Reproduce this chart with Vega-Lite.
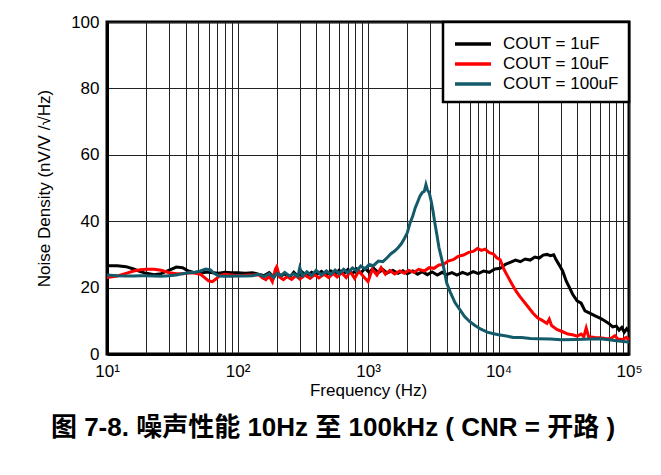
{
  "$schema": "https://vega.github.io/schema/vega-lite/v6.json",
  "autosize": {"type": "none"},
  "width": 522,
  "height": 332,
  "padding": {"left": 107, "top": 22, "right": 32, "bottom": 121},
  "background": "white",
  "title": {
    "text": "图 7-8. 噪声性能 10Hz 至 100kHz ( CNR = 开路 )",
    "orient": "bottom",
    "anchor": "middle",
    "frame": "group",
    "offset": 17,
    "dx": -35,
    "font": "Liberation Sans, Noto Sans CJK SC",
    "fontSize": 26,
    "fontWeight": "bold",
    "color": "black"
  },
  "config": {
    "view": {"stroke": "black", "strokeWidth": 3},
    "axis": {
      "labelFont": "Liberation Sans",
      "titleFont": "Liberation Sans",
      "labelColor": "black",
      "titleColor": "black",
      "titleFontWeight": "normal",
      "domainColor": "black",
      "domainWidth": 3,
      "gridColor": "#222222",
      "gridWidth": 1,
      "gridOpacity": 1,
      "ticks": false
    }
  },
  "data": {
    "values": [
      {"f": 10, "v": 26.6, "s": "COUT = 1uF"},
      {"f": 12, "v": 26.6, "s": "COUT = 1uF"},
      {"f": 14, "v": 26.3, "s": "COUT = 1uF"},
      {"f": 16, "v": 25.6, "s": "COUT = 1uF"},
      {"f": 18, "v": 24.8, "s": "COUT = 1uF"},
      {"f": 20, "v": 24.3, "s": "COUT = 1uF"},
      {"f": 23, "v": 23.9, "s": "COUT = 1uF"},
      {"f": 26, "v": 24.2, "s": "COUT = 1uF"},
      {"f": 30, "v": 25.3, "s": "COUT = 1uF"},
      {"f": 34, "v": 26.2, "s": "COUT = 1uF"},
      {"f": 38, "v": 26.0, "s": "COUT = 1uF"},
      {"f": 42, "v": 25.0, "s": "COUT = 1uF"},
      {"f": 47, "v": 24.5, "s": "COUT = 1uF"},
      {"f": 52, "v": 24.3, "s": "COUT = 1uF"},
      {"f": 58, "v": 24.7, "s": "COUT = 1uF"},
      {"f": 65, "v": 24.5, "s": "COUT = 1uF"},
      {"f": 72, "v": 24.3, "s": "COUT = 1uF"},
      {"f": 80, "v": 24.6, "s": "COUT = 1uF"},
      {"f": 90, "v": 24.5, "s": "COUT = 1uF"},
      {"f": 100, "v": 24.5, "s": "COUT = 1uF"},
      {"f": 115, "v": 24.3, "s": "COUT = 1uF"},
      {"f": 130, "v": 24.5, "s": "COUT = 1uF"},
      {"f": 145, "v": 24.0, "s": "COUT = 1uF"},
      {"f": 160, "v": 23.6, "s": "COUT = 1uF"},
      {"f": 175, "v": 24.5, "s": "COUT = 1uF"},
      {"f": 190, "v": 23.2, "s": "COUT = 1uF"},
      {"f": 200, "v": 24.8, "s": "COUT = 1uF"},
      {"f": 215, "v": 23.5, "s": "COUT = 1uF"},
      {"f": 230, "v": 24.2, "s": "COUT = 1uF"},
      {"f": 250, "v": 23.0, "s": "COUT = 1uF"},
      {"f": 270, "v": 24.6, "s": "COUT = 1uF"},
      {"f": 290, "v": 23.4, "s": "COUT = 1uF"},
      {"f": 310, "v": 24.8, "s": "COUT = 1uF"},
      {"f": 340, "v": 23.5, "s": "COUT = 1uF"},
      {"f": 370, "v": 24.6, "s": "COUT = 1uF"},
      {"f": 400, "v": 23.8, "s": "COUT = 1uF"},
      {"f": 440, "v": 24.9, "s": "COUT = 1uF"},
      {"f": 480, "v": 23.7, "s": "COUT = 1uF"},
      {"f": 520, "v": 25.0, "s": "COUT = 1uF"},
      {"f": 560, "v": 24.0, "s": "COUT = 1uF"},
      {"f": 600, "v": 25.2, "s": "COUT = 1uF"},
      {"f": 650, "v": 24.1, "s": "COUT = 1uF"},
      {"f": 700, "v": 25.4, "s": "COUT = 1uF"},
      {"f": 760, "v": 24.2, "s": "COUT = 1uF"},
      {"f": 820, "v": 25.6, "s": "COUT = 1uF"},
      {"f": 880, "v": 24.4, "s": "COUT = 1uF"},
      {"f": 950, "v": 25.8, "s": "COUT = 1uF"},
      {"f": 1020, "v": 24.6, "s": "COUT = 1uF"},
      {"f": 1100, "v": 25.9, "s": "COUT = 1uF"},
      {"f": 1200, "v": 24.5, "s": "COUT = 1uF"},
      {"f": 1300, "v": 25.4, "s": "COUT = 1uF"},
      {"f": 1400, "v": 24.4, "s": "COUT = 1uF"},
      {"f": 1550, "v": 25.2, "s": "COUT = 1uF"},
      {"f": 1700, "v": 24.3, "s": "COUT = 1uF"},
      {"f": 1850, "v": 25.1, "s": "COUT = 1uF"},
      {"f": 2000, "v": 24.2, "s": "COUT = 1uF"},
      {"f": 2200, "v": 25.0, "s": "COUT = 1uF"},
      {"f": 2400, "v": 24.0, "s": "COUT = 1uF"},
      {"f": 2600, "v": 24.8, "s": "COUT = 1uF"},
      {"f": 2850, "v": 23.9, "s": "COUT = 1uF"},
      {"f": 3100, "v": 24.7, "s": "COUT = 1uF"},
      {"f": 3400, "v": 23.8, "s": "COUT = 1uF"},
      {"f": 3700, "v": 24.6, "s": "COUT = 1uF"},
      {"f": 4000, "v": 23.9, "s": "COUT = 1uF"},
      {"f": 4400, "v": 24.5, "s": "COUT = 1uF"},
      {"f": 4800, "v": 23.8, "s": "COUT = 1uF"},
      {"f": 5300, "v": 24.6, "s": "COUT = 1uF"},
      {"f": 5800, "v": 24.0, "s": "COUT = 1uF"},
      {"f": 6400, "v": 24.8, "s": "COUT = 1uF"},
      {"f": 7000, "v": 24.2, "s": "COUT = 1uF"},
      {"f": 7700, "v": 25.0, "s": "COUT = 1uF"},
      {"f": 8500, "v": 24.6, "s": "COUT = 1uF"},
      {"f": 9400, "v": 25.6, "s": "COUT = 1uF"},
      {"f": 10300, "v": 25.8, "s": "COUT = 1uF"},
      {"f": 11300, "v": 27.0, "s": "COUT = 1uF"},
      {"f": 12300, "v": 27.6, "s": "COUT = 1uF"},
      {"f": 13500, "v": 28.3, "s": "COUT = 1uF"},
      {"f": 14700, "v": 27.8, "s": "COUT = 1uF"},
      {"f": 16000, "v": 28.6, "s": "COUT = 1uF"},
      {"f": 17500, "v": 28.3, "s": "COUT = 1uF"},
      {"f": 19000, "v": 29.2, "s": "COUT = 1uF"},
      {"f": 20500, "v": 28.9, "s": "COUT = 1uF"},
      {"f": 22000, "v": 29.8, "s": "COUT = 1uF"},
      {"f": 23500, "v": 30.0, "s": "COUT = 1uF"},
      {"f": 25000, "v": 29.6, "s": "COUT = 1uF"},
      {"f": 26500, "v": 29.9, "s": "COUT = 1uF"},
      {"f": 27500, "v": 28.5, "s": "COUT = 1uF"},
      {"f": 29000, "v": 27.0, "s": "COUT = 1uF"},
      {"f": 31000, "v": 25.0, "s": "COUT = 1uF"},
      {"f": 33000, "v": 22.0, "s": "COUT = 1uF"},
      {"f": 35000, "v": 20.0, "s": "COUT = 1uF"},
      {"f": 37000, "v": 18.0, "s": "COUT = 1uF"},
      {"f": 40000, "v": 16.0, "s": "COUT = 1uF"},
      {"f": 43000, "v": 15.3, "s": "COUT = 1uF"},
      {"f": 46000, "v": 13.0, "s": "COUT = 1uF"},
      {"f": 50000, "v": 12.3, "s": "COUT = 1uF"},
      {"f": 55000, "v": 11.5, "s": "COUT = 1uF"},
      {"f": 60000, "v": 10.8, "s": "COUT = 1uF"},
      {"f": 65000, "v": 10.0, "s": "COUT = 1uF"},
      {"f": 70000, "v": 9.2, "s": "COUT = 1uF"},
      {"f": 75000, "v": 8.2, "s": "COUT = 1uF"},
      {"f": 80000, "v": 8.4, "s": "COUT = 1uF"},
      {"f": 84000, "v": 7.2, "s": "COUT = 1uF"},
      {"f": 88000, "v": 8.0, "s": "COUT = 1uF"},
      {"f": 92000, "v": 6.6, "s": "COUT = 1uF"},
      {"f": 96000, "v": 7.6, "s": "COUT = 1uF"},
      {"f": 100000, "v": 6.8, "s": "COUT = 1uF"},

      {"f": 10, "v": 23.0, "s": "COUT = 10uF"},
      {"f": 12, "v": 23.5, "s": "COUT = 10uF"},
      {"f": 14, "v": 24.3, "s": "COUT = 10uF"},
      {"f": 16, "v": 25.0, "s": "COUT = 10uF"},
      {"f": 18, "v": 25.4, "s": "COUT = 10uF"},
      {"f": 20, "v": 25.5, "s": "COUT = 10uF"},
      {"f": 23, "v": 25.5, "s": "COUT = 10uF"},
      {"f": 26, "v": 25.2, "s": "COUT = 10uF"},
      {"f": 30, "v": 24.5, "s": "COUT = 10uF"},
      {"f": 34, "v": 24.2, "s": "COUT = 10uF"},
      {"f": 38, "v": 24.2, "s": "COUT = 10uF"},
      {"f": 42, "v": 24.4, "s": "COUT = 10uF"},
      {"f": 47, "v": 24.4, "s": "COUT = 10uF"},
      {"f": 52, "v": 24.0, "s": "COUT = 10uF"},
      {"f": 56, "v": 23.0, "s": "COUT = 10uF"},
      {"f": 60, "v": 22.0, "s": "COUT = 10uF"},
      {"f": 64, "v": 21.8, "s": "COUT = 10uF"},
      {"f": 68, "v": 22.5, "s": "COUT = 10uF"},
      {"f": 73, "v": 23.6, "s": "COUT = 10uF"},
      {"f": 80, "v": 24.0, "s": "COUT = 10uF"},
      {"f": 90, "v": 23.8, "s": "COUT = 10uF"},
      {"f": 100, "v": 23.6, "s": "COUT = 10uF"},
      {"f": 115, "v": 23.7, "s": "COUT = 10uF"},
      {"f": 130, "v": 23.8, "s": "COUT = 10uF"},
      {"f": 145, "v": 23.9, "s": "COUT = 10uF"},
      {"f": 155, "v": 23.0, "s": "COUT = 10uF"},
      {"f": 165, "v": 22.4, "s": "COUT = 10uF"},
      {"f": 175, "v": 23.5, "s": "COUT = 10uF"},
      {"f": 185, "v": 21.8, "s": "COUT = 10uF"},
      {"f": 195, "v": 25.5, "s": "COUT = 10uF"},
      {"f": 200, "v": 26.3, "s": "COUT = 10uF"},
      {"f": 210, "v": 23.2, "s": "COUT = 10uF"},
      {"f": 225, "v": 22.4, "s": "COUT = 10uF"},
      {"f": 240, "v": 23.3, "s": "COUT = 10uF"},
      {"f": 260, "v": 22.5, "s": "COUT = 10uF"},
      {"f": 280, "v": 23.6, "s": "COUT = 10uF"},
      {"f": 300, "v": 22.6, "s": "COUT = 10uF"},
      {"f": 330, "v": 23.8, "s": "COUT = 10uF"},
      {"f": 360, "v": 22.8, "s": "COUT = 10uF"},
      {"f": 390, "v": 23.9, "s": "COUT = 10uF"},
      {"f": 420, "v": 22.9, "s": "COUT = 10uF"},
      {"f": 460, "v": 24.0, "s": "COUT = 10uF"},
      {"f": 500, "v": 23.0, "s": "COUT = 10uF"},
      {"f": 540, "v": 24.3, "s": "COUT = 10uF"},
      {"f": 580, "v": 23.2, "s": "COUT = 10uF"},
      {"f": 630, "v": 24.5, "s": "COUT = 10uF"},
      {"f": 680, "v": 23.0, "s": "COUT = 10uF"},
      {"f": 730, "v": 24.8, "s": "COUT = 10uF"},
      {"f": 790, "v": 22.8, "s": "COUT = 10uF"},
      {"f": 850, "v": 25.0, "s": "COUT = 10uF"},
      {"f": 920, "v": 23.4, "s": "COUT = 10uF"},
      {"f": 1000, "v": 21.8, "s": "COUT = 10uF"},
      {"f": 1080, "v": 25.5, "s": "COUT = 10uF"},
      {"f": 1170, "v": 23.8, "s": "COUT = 10uF"},
      {"f": 1260, "v": 26.0, "s": "COUT = 10uF"},
      {"f": 1360, "v": 24.0, "s": "COUT = 10uF"},
      {"f": 1470, "v": 25.2, "s": "COUT = 10uF"},
      {"f": 1600, "v": 24.1, "s": "COUT = 10uF"},
      {"f": 1750, "v": 25.0, "s": "COUT = 10uF"},
      {"f": 1900, "v": 24.3, "s": "COUT = 10uF"},
      {"f": 2050, "v": 25.2, "s": "COUT = 10uF"},
      {"f": 2250, "v": 24.6, "s": "COUT = 10uF"},
      {"f": 2450, "v": 25.5, "s": "COUT = 10uF"},
      {"f": 2700, "v": 25.0, "s": "COUT = 10uF"},
      {"f": 2950, "v": 26.0, "s": "COUT = 10uF"},
      {"f": 3200, "v": 25.8, "s": "COUT = 10uF"},
      {"f": 3500, "v": 26.8, "s": "COUT = 10uF"},
      {"f": 3800, "v": 27.0, "s": "COUT = 10uF"},
      {"f": 4100, "v": 28.0, "s": "COUT = 10uF"},
      {"f": 4500, "v": 28.4, "s": "COUT = 10uF"},
      {"f": 4900, "v": 29.4, "s": "COUT = 10uF"},
      {"f": 5400, "v": 29.8, "s": "COUT = 10uF"},
      {"f": 5900, "v": 30.6, "s": "COUT = 10uF"},
      {"f": 6400, "v": 30.9, "s": "COUT = 10uF"},
      {"f": 6900, "v": 31.8, "s": "COUT = 10uF"},
      {"f": 7400, "v": 31.2, "s": "COUT = 10uF"},
      {"f": 7900, "v": 31.6, "s": "COUT = 10uF"},
      {"f": 8500, "v": 30.5, "s": "COUT = 10uF"},
      {"f": 9100, "v": 30.2, "s": "COUT = 10uF"},
      {"f": 9700, "v": 29.0, "s": "COUT = 10uF"},
      {"f": 10300, "v": 28.4, "s": "COUT = 10uF"},
      {"f": 11000, "v": 25.5, "s": "COUT = 10uF"},
      {"f": 11800, "v": 23.3, "s": "COUT = 10uF"},
      {"f": 12700, "v": 21.0, "s": "COUT = 10uF"},
      {"f": 13600, "v": 19.0, "s": "COUT = 10uF"},
      {"f": 14600, "v": 17.3, "s": "COUT = 10uF"},
      {"f": 15800, "v": 15.6, "s": "COUT = 10uF"},
      {"f": 17000, "v": 14.0, "s": "COUT = 10uF"},
      {"f": 18400, "v": 12.3, "s": "COUT = 10uF"},
      {"f": 20000, "v": 10.8, "s": "COUT = 10uF"},
      {"f": 21500, "v": 10.2, "s": "COUT = 10uF"},
      {"f": 23500, "v": 9.2, "s": "COUT = 10uF"},
      {"f": 24500, "v": 10.5, "s": "COUT = 10uF"},
      {"f": 25500, "v": 8.6, "s": "COUT = 10uF"},
      {"f": 28000, "v": 7.4, "s": "COUT = 10uF"},
      {"f": 31000, "v": 6.7, "s": "COUT = 10uF"},
      {"f": 34000, "v": 6.0, "s": "COUT = 10uF"},
      {"f": 37000, "v": 5.8, "s": "COUT = 10uF"},
      {"f": 40000, "v": 5.4, "s": "COUT = 10uF"},
      {"f": 43000, "v": 6.0, "s": "COUT = 10uF"},
      {"f": 45000, "v": 5.2, "s": "COUT = 10uF"},
      {"f": 47000, "v": 7.8, "s": "COUT = 10uF"},
      {"f": 49000, "v": 5.2, "s": "COUT = 10uF"},
      {"f": 55000, "v": 5.0, "s": "COUT = 10uF"},
      {"f": 60000, "v": 4.9, "s": "COUT = 10uF"},
      {"f": 66000, "v": 4.7, "s": "COUT = 10uF"},
      {"f": 72000, "v": 4.6, "s": "COUT = 10uF"},
      {"f": 78000, "v": 5.5, "s": "COUT = 10uF"},
      {"f": 82000, "v": 4.5, "s": "COUT = 10uF"},
      {"f": 90000, "v": 4.4, "s": "COUT = 10uF"},
      {"f": 95000, "v": 5.0, "s": "COUT = 10uF"},
      {"f": 100000, "v": 4.3, "s": "COUT = 10uF"},

      {"f": 10, "v": 23.8, "s": "COUT = 100uF"},
      {"f": 12, "v": 23.6, "s": "COUT = 100uF"},
      {"f": 14, "v": 23.5, "s": "COUT = 100uF"},
      {"f": 16, "v": 23.5, "s": "COUT = 100uF"},
      {"f": 18, "v": 23.6, "s": "COUT = 100uF"},
      {"f": 20, "v": 23.6, "s": "COUT = 100uF"},
      {"f": 23, "v": 23.5, "s": "COUT = 100uF"},
      {"f": 26, "v": 23.4, "s": "COUT = 100uF"},
      {"f": 30, "v": 23.6, "s": "COUT = 100uF"},
      {"f": 34, "v": 23.8, "s": "COUT = 100uF"},
      {"f": 38, "v": 24.2, "s": "COUT = 100uF"},
      {"f": 42, "v": 24.5, "s": "COUT = 100uF"},
      {"f": 47, "v": 24.6, "s": "COUT = 100uF"},
      {"f": 52, "v": 25.0, "s": "COUT = 100uF"},
      {"f": 57, "v": 25.6, "s": "COUT = 100uF"},
      {"f": 62, "v": 25.3, "s": "COUT = 100uF"},
      {"f": 66, "v": 24.3, "s": "COUT = 100uF"},
      {"f": 72, "v": 23.5, "s": "COUT = 100uF"},
      {"f": 80, "v": 23.4, "s": "COUT = 100uF"},
      {"f": 90, "v": 23.4, "s": "COUT = 100uF"},
      {"f": 100, "v": 23.5, "s": "COUT = 100uF"},
      {"f": 115, "v": 23.5, "s": "COUT = 100uF"},
      {"f": 130, "v": 23.6, "s": "COUT = 100uF"},
      {"f": 145, "v": 24.0, "s": "COUT = 100uF"},
      {"f": 160, "v": 23.3, "s": "COUT = 100uF"},
      {"f": 175, "v": 24.2, "s": "COUT = 100uF"},
      {"f": 190, "v": 23.0, "s": "COUT = 100uF"},
      {"f": 200, "v": 24.3, "s": "COUT = 100uF"},
      {"f": 215, "v": 23.6, "s": "COUT = 100uF"},
      {"f": 230, "v": 24.6, "s": "COUT = 100uF"},
      {"f": 250, "v": 23.5, "s": "COUT = 100uF"},
      {"f": 270, "v": 24.2, "s": "COUT = 100uF"},
      {"f": 290, "v": 23.3, "s": "COUT = 100uF"},
      {"f": 300, "v": 26.0, "s": "COUT = 100uF"},
      {"f": 315, "v": 23.5, "s": "COUT = 100uF"},
      {"f": 340, "v": 24.8, "s": "COUT = 100uF"},
      {"f": 370, "v": 23.6, "s": "COUT = 100uF"},
      {"f": 400, "v": 25.2, "s": "COUT = 100uF"},
      {"f": 440, "v": 23.8, "s": "COUT = 100uF"},
      {"f": 480, "v": 25.0, "s": "COUT = 100uF"},
      {"f": 520, "v": 24.0, "s": "COUT = 100uF"},
      {"f": 560, "v": 25.3, "s": "COUT = 100uF"},
      {"f": 600, "v": 24.2, "s": "COUT = 100uF"},
      {"f": 650, "v": 25.5, "s": "COUT = 100uF"},
      {"f": 700, "v": 24.5, "s": "COUT = 100uF"},
      {"f": 760, "v": 25.9, "s": "COUT = 100uF"},
      {"f": 820, "v": 25.0, "s": "COUT = 100uF"},
      {"f": 880, "v": 26.5, "s": "COUT = 100uF"},
      {"f": 950, "v": 25.6, "s": "COUT = 100uF"},
      {"f": 1020, "v": 27.0, "s": "COUT = 100uF"},
      {"f": 1100, "v": 26.6, "s": "COUT = 100uF"},
      {"f": 1200, "v": 28.0, "s": "COUT = 100uF"},
      {"f": 1300, "v": 27.8, "s": "COUT = 100uF"},
      {"f": 1400, "v": 29.0, "s": "COUT = 100uF"},
      {"f": 1500, "v": 30.2, "s": "COUT = 100uF"},
      {"f": 1600, "v": 31.0, "s": "COUT = 100uF"},
      {"f": 1700, "v": 32.0, "s": "COUT = 100uF"},
      {"f": 1800, "v": 33.2, "s": "COUT = 100uF"},
      {"f": 1900, "v": 34.8, "s": "COUT = 100uF"},
      {"f": 2000, "v": 36.5, "s": "COUT = 100uF"},
      {"f": 2100, "v": 39.5, "s": "COUT = 100uF"},
      {"f": 2200, "v": 41.5, "s": "COUT = 100uF"},
      {"f": 2300, "v": 44.0, "s": "COUT = 100uF"},
      {"f": 2400, "v": 45.8, "s": "COUT = 100uF"},
      {"f": 2500, "v": 47.5, "s": "COUT = 100uF"},
      {"f": 2600, "v": 48.6, "s": "COUT = 100uF"},
      {"f": 2700, "v": 49.0, "s": "COUT = 100uF"},
      {"f": 2780, "v": 51.0, "s": "COUT = 100uF"},
      {"f": 2850, "v": 49.5, "s": "COUT = 100uF"},
      {"f": 2950, "v": 48.5, "s": "COUT = 100uF"},
      {"f": 3050, "v": 46.0, "s": "COUT = 100uF"},
      {"f": 3150, "v": 43.0, "s": "COUT = 100uF"},
      {"f": 3250, "v": 39.5, "s": "COUT = 100uF"},
      {"f": 3360, "v": 36.3, "s": "COUT = 100uF"},
      {"f": 3500, "v": 32.0, "s": "COUT = 100uF"},
      {"f": 3650, "v": 29.0, "s": "COUT = 100uF"},
      {"f": 3850, "v": 25.0, "s": "COUT = 100uF"},
      {"f": 4000, "v": 21.5, "s": "COUT = 100uF"},
      {"f": 4250, "v": 18.8, "s": "COUT = 100uF"},
      {"f": 4640, "v": 15.5, "s": "COUT = 100uF"},
      {"f": 5070, "v": 13.3, "s": "COUT = 100uF"},
      {"f": 5500, "v": 11.3, "s": "COUT = 100uF"},
      {"f": 6000, "v": 9.8, "s": "COUT = 100uF"},
      {"f": 6600, "v": 8.6, "s": "COUT = 100uF"},
      {"f": 7400, "v": 7.4, "s": "COUT = 100uF"},
      {"f": 8200, "v": 6.6, "s": "COUT = 100uF"},
      {"f": 9000, "v": 6.2, "s": "COUT = 100uF"},
      {"f": 10000, "v": 5.8, "s": "COUT = 100uF"},
      {"f": 11500, "v": 5.4, "s": "COUT = 100uF"},
      {"f": 13000, "v": 5.0, "s": "COUT = 100uF"},
      {"f": 15000, "v": 5.0, "s": "COUT = 100uF"},
      {"f": 17500, "v": 4.7, "s": "COUT = 100uF"},
      {"f": 20000, "v": 4.6, "s": "COUT = 100uF"},
      {"f": 25000, "v": 4.5, "s": "COUT = 100uF"},
      {"f": 30000, "v": 4.3, "s": "COUT = 100uF"},
      {"f": 40000, "v": 4.4, "s": "COUT = 100uF"},
      {"f": 50000, "v": 4.5, "s": "COUT = 100uF"},
      {"f": 60000, "v": 4.6, "s": "COUT = 100uF"},
      {"f": 70000, "v": 4.3, "s": "COUT = 100uF"},
      {"f": 80000, "v": 4.0, "s": "COUT = 100uF"},
      {"f": 90000, "v": 3.8, "s": "COUT = 100uF"},
      {"f": 100000, "v": 3.6, "s": "COUT = 100uF"}
    ]
  },
  "mark": {"type": "line", "strokeWidth": 3, "interpolate": "linear"},
  "encoding": {
    "x": {
      "field": "f",
      "type": "quantitative",
      "scale": {"type": "log", "domain": [10, 100000], "nice": false},
      "axis": {
        "title": "Frequency (Hz)",
        "titleFontSize": 17,
        "titlePadding": 3,
        "labelFontSize": 17,
        "labelPadding": 9,
        "labelOverlap": false,
        "labelFlush": false,
        "labelBound": false,
        "grid": true,
        "values": [10,20,30,40,50,60,70,80,90,100,200,300,400,500,600,700,800,900,1000,2000,3000,4000,5000,6000,7000,8000,9000,10000,20000,30000,40000,50000,60000,70000,80000,90000,100000],
        "labelExpr": "datum.value == 10 ? '10¹' : datum.value == 100 ? '10²' : datum.value == 1000 ? '10³' : datum.value == 10000 ? '10⁴' : datum.value == 100000 ? '10⁵' : ''"
      }
    },
    "y": {
      "field": "v",
      "type": "quantitative",
      "scale": {"domain": [0, 100], "nice": false},
      "axis": {
        "title": "Noise Density (nV/V /√Hz)",
        "titleFontSize": 17,
        "titlePadding": 17,
        "labelFontSize": 17,
        "labelPadding": 8,
        "grid": true,
        "values": [0, 20, 40, 60, 80, 100]
      }
    },
    "color": {
      "field": "s",
      "type": "nominal",
      "sort": null,
      "scale": {
        "domain": ["COUT = 1uF", "COUT = 10uF", "COUT = 100uF"],
        "range": ["#000000", "#ff0000", "#135b6a"]
      },
      "legend": {
        "title": null,
        "orient": "top-right",
        "offset": 0,
        "padding": 10,
        "fillColor": "white",
        "strokeColor": "black",
        "symbolType": "M-1,0H2.6",
        "symbolSize": 400,
        "symbolStrokeWidth": 3.5,
        "labelFont": "Liberation Sans",
        "labelFontSize": 17,
        "labelColor": "black",
        "labelOffset": 26,
        "rowPadding": 0,
        "labelLimit": 300,
        "encode": {"legend": {"update": {"strokeWidth": {"value": 2.5}}}}
      }
    }
  }
}
